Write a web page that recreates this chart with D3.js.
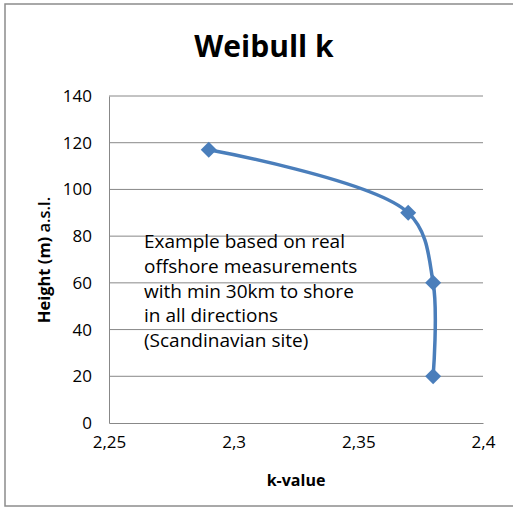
<!DOCTYPE html>
<html><head><meta charset="utf-8">
<script src="https://cdn.jsdelivr.net/npm/d3@7"></script>
<style>body{margin:0;background:#fff}svg{display:block}</style>
</head><body>
<script>
const kValues = [2.29, 2.37, 2.38, 2.38];
const heights = [117, 90, 60, 20];
const xTicks = [2.25, 2.3, 2.35, 2.4];
const yTicks = [0, 20, 40, 60, 80, 100, 120, 140];
const title = "Weibull k";
const xLabel = "k-value";
const note = ["Example based on real", "offshore measurements", "with min 30km to shore", "in all directions", "(Scandinavian site)"];

const W = 513, H = 510;
const svg = d3.select("body").append("svg").attr("width", W).attr("height", H);
svg.append("rect").attr("x", 5).attr("y", 4).attr("width", 520).attr("height", 502)
  .attr("fill", "#fff").attr("stroke", "#8c8c8c").attr("stroke-width", 1.5);

const x = d3.scaleLinear().domain([2.25, 2.4]).range([109, 483]);
const y = d3.scaleLinear().domain([0, 140]).range([423, 96]);
const font = "'Open Sans', sans-serif";

svg.append("g").selectAll("line").data(yTicks.filter(d => d > 0)).join("line")
  .attr("x1", x(2.25)).attr("x2", x(2.4)).attr("y1", d => y(d)).attr("y2", d => y(d))
  .attr("stroke", "#888").attr("stroke-width", 1);

const yAxis = svg.append("g").attr("transform", `translate(${x(2.25)},0)`)
  .call(d3.axisLeft(y).tickValues(yTicks).tickSize(0).tickPadding(17));
yAxis.select(".domain").attr("stroke", "#888");
yAxis.selectAll("text").attr("font-family", font).attr("font-size", 17).attr("fill", "#000");

const fmt = d => String(d).replace(".", ",");
const xAxis = svg.append("g").attr("transform", `translate(0,${y(0)})`)
  .call(d3.axisBottom(x).tickValues(xTicks).tickFormat(fmt).tickSize(0).tickPadding(13));
xAxis.select(".domain").attr("stroke", "#888");
xAxis.selectAll("text").attr("font-family", font).attr("font-size", 17).attr("fill", "#000");

svg.append("text").attr("x", 264).attr("y", 57).attr("text-anchor", "middle")
  .attr("font-family", font).attr("font-weight", "bold").attr("font-size", 30).text(title);

svg.append("text").attr("x", 296).attr("y", 486).attr("text-anchor", "middle")
  .attr("font-family", font).attr("font-weight", "bold").attr("font-size", 16).text(xLabel);

const yl = svg.append("text").attr("transform", "translate(50,260) rotate(-90)")
  .attr("text-anchor", "middle").attr("font-family", font).attr("font-size", 16.5);
yl.append("tspan").attr("font-weight", "bold").text("Height (m) ");
yl.append("tspan").attr("font-weight", 600).text("a.s.l.");

const pts = kValues.map((k, i) => [x(k), y(heights[i])]);
svg.append("path").attr("d", d3.line().curve(d3.curveCatmullRom.alpha(0.5))(pts))
  .attr("fill", "none").attr("stroke", "#4a7ebb").attr("stroke-width", 3.5);

svg.append("g").selectAll("path").data(pts).join("path")
  .attr("transform", d => `translate(${d[0]},${d[1]})`)
  .attr("d", "M0,-8L8,0L0,8L-8,0Z").attr("fill", "#4a7ebb");

svg.append("g").selectAll("text").data(note).join("text")
  .attr("x", 144).attr("y", (d, i) => 248 + i * 24.8)
  .attr("font-family", font).attr("font-size", 19).attr("fill", "#000").text(d => d);
</script>
</body></html>
